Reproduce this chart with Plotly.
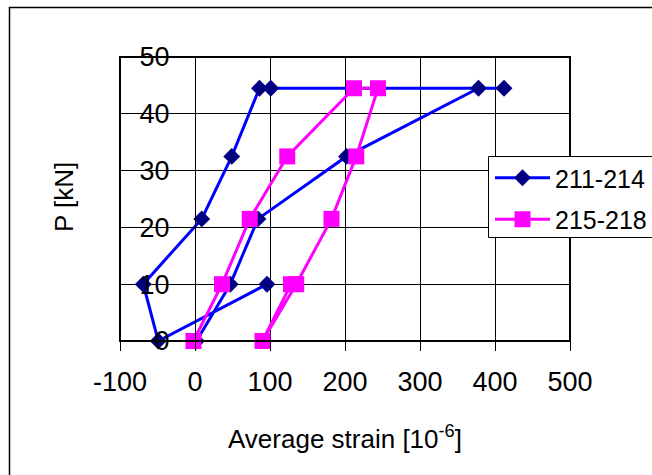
import plotly.graph_objects as go

# Data
s1_name = "211-214"
s1_x = [2, 47, 84, 202, 378, 412, 101, 86, 49, 9, -69, -49, 96]
s1_y = [0, 10, 21.5, 32.5, 44.5, 44.5, 44.5, 44.5, 32.5, 21.5, 10, 0, 10]

s2_name = "215-218"
s2_x = [-2, 36, 73, 123, 212, 244, 215, 182, 135, 90, 128]
s2_y = [0, 10, 21.5, 32.5, 44.5, 44.5, 32.5, 21.5, 10, 0, 10]

x_ticks = [-100, 0, 100, 200, 300, 400, 500]
y_ticks = [0, 10, 20, 30, 40, 50]

FONT = "Liberation Sans, Arial, sans-serif"
W, H = 652, 475
L, R, T, B = 120, 82, 57, 134
pw, ph = W - L - R, H - T - B

def px2paper_x(px):
    return (px - L) / pw

def px2paper_y(py):
    return (H - B - py) / ph

fig = go.Figure()
fig.add_trace(go.Scatter(
    x=s1_x, y=s1_y, name=s1_name, mode="lines+markers", legendgroup="a",
    line=dict(color="#0000FF", width=3),
    marker=dict(symbol="diamond", size=13, color="#000080", line=dict(width=0)),
    cliponaxis=False,
))
fig.add_trace(go.Scatter(
    x=s2_x, y=s2_y, name=s2_name, mode="lines+markers", legendgroup="b",
    line=dict(color="#FF00FF", width=3),
    marker=dict(symbol="square", size=16, color="#FF00FF", line=dict(width=0)),
    cliponaxis=False,
))

fig.update_layout(
    width=W, height=H,
    margin=dict(l=L, r=R, t=T, b=B, pad=0, autoexpand=False),
    paper_bgcolor="white", plot_bgcolor="white",
    font=dict(family=FONT, size=26, color="black"),
    showlegend=True,
    legend=dict(
        x=px2paper_x(490), y=px2paper_y(155), xanchor="left", yanchor="top",
        bgcolor="rgba(0,0,0,0)", borderwidth=0,
        font=dict(family=FONT, size=25, color="black"),
        itemsizing="trace", itemwidth=55,
        tracegroupgap=6,
    ),
    xaxis=dict(
        range=[-100, 500], tickvals=x_ticks, ticktext=[str(v) for v in x_ticks],
        showgrid=True, gridcolor="black", gridwidth=1,
        zeroline=False, showline=False,
        ticks="outside", ticklen=9, tickcolor="black", tickwidth=1,
        tickfont=dict(family=FONT, size=27),
        ticklabelstandoff=8, automargin=False,
    ),
    yaxis=dict(
        range=[0, 50], tickvals=y_ticks, ticktext=[str(v) for v in y_ticks],
        showgrid=True, gridcolor="black", gridwidth=1,
        zeroline=False, showline=True, linecolor="black", linewidth=1,
        anchor="free", position=(0 - (-100)) / 600,
        ticks="outside", ticklen=10, tickcolor="black", tickwidth=1,
        tickfont=dict(family=FONT, size=27),
        ticklabelstandoff=10, automargin=False,
    ),
    shapes=[
        # plot area frame
        dict(type="rect", xref="paper", yref="paper", x0=0, y0=0, x1=1, y1=1,
             line=dict(color="black", width=2), layer="above"),
        # outer chart frame
        dict(type="rect", xref="paper", yref="paper",
             x0=px2paper_x(9.5), y0=px2paper_y(560), x1=px2paper_x(760), y1=px2paper_y(7.5),
             line=dict(color="black", width=1.5), layer="below"),
        # legend box
        dict(type="rect", xref="paper", yref="paper",
             x0=px2paper_x(488.5), y0=px2paper_y(237.5), x1=px2paper_x(760), y1=px2paper_y(156.5),
             line=dict(color="black", width=1), fillcolor="white", layer="above"),
    ],
    annotations=[
        dict(text="P [kN]", xref="paper", yref="paper",
             x=px2paper_x(64), y=px2paper_y(197), textangle=-90,
             showarrow=False, xanchor="center", yanchor="middle",
             font=dict(family=FONT, size=26)),
        dict(text="Average strain [10<sup>-6</sup>]", xref="paper", yref="paper",
             x=px2paper_x(345), y=px2paper_y(437),
             showarrow=False, xanchor="center", yanchor="middle",
             font=dict(family=FONT, size=26)),
    ],
)

fig.write_html("out.html")
